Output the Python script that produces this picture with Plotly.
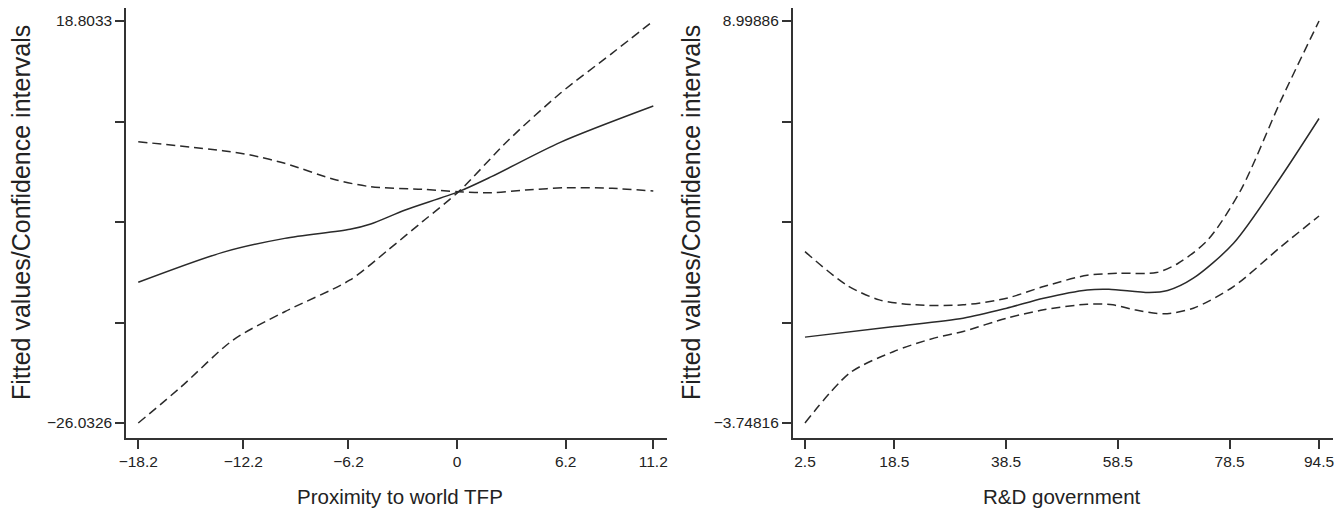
import plotly.graph_objects as go

# ---- Left panel: Proximity to world TFP ----
tfp_x_fit = [-18.2, -13.38, -9.84, -6.11, -4.93, -2.96, 0.09, 1.96, 5.89, 11.2]
tfp_fit = [-10.34, -7.00, -5.44, -4.43, -3.84, -2.28, -0.23, 1.44, 5.27, 9.32]

tfp_x_up = [-18.2, -13.38, -11.8, -9.84, -6.89, -4.93, -1.98, 0.09, 1.96, 3.92, 6.28, 8.84, 11.2]
tfp_up = [5.34, 4.34, 3.86, 2.93, 1.07, 0.32, 0.03, -0.23, -0.35, -0.05, 0.21, 0.14, -0.16]

tfp_x_lo = [-18.2, -15.74, -12.79, -9.84, -6.11, -3.94, -1.98, 0.09, 2.94, 5.89, 8.84, 11.2]
tfp_lo = [-26.0326, -21.98, -16.78, -13.62, -10.08, -6.74, -3.58, -0.23, 5.53, 10.74, 15.2, 18.8033]

tfp_xticks = [-18.2, -12.2, -6.2, 0, 6.2, 11.2]
tfp_xlabels = ["\u221218.2", "\u221212.2", "\u22126.2", "0", "6.2", "11.2"]
tfp_yticks = [18.8033, 7.594, -3.615, -14.824, -26.0326]
tfp_ylabels = ["18.8033", "", "", "", "\u221226.0326"]

# ---- Right panel: R&D government ----
rd_x_fit = [2.5, 18.5, 30.8, 38.6, 45.2, 53.0, 56.9, 64.1, 67.4, 72.0, 79.2, 87.7, 94.5]
rd_fit = [-1.025, -0.688, -0.424, -0.107, 0.209, 0.473, 0.494, 0.389, 0.452, 0.842, 1.950, 4.061, 5.907]

rd_x_up = [2.5, 9.9, 15.8, 22.3, 30.8, 38.6, 45.2, 53.0, 58.9, 65.4, 69.3, 74.6, 80.5, 87.7, 94.5]
rd_up = [1.686, 0.631, 0.156, -0.002, -0.002, 0.209, 0.578, 0.937, 1.0, 1.021, 1.317, 2.056, 3.639, 6.488, 8.99886]

rd_x_lo = [2.5, 10.5, 18.4, 25.6, 30.8, 38.6, 45.2, 53.0, 57.6, 61.5, 66.7, 72.0, 79.2, 87.7, 94.5]
rd_lo = [-3.74816, -2.165, -1.479, -1.057, -0.846, -0.424, -0.160, 0.019, -0.002, -0.160, -0.287, -0.107, 0.578, 1.845, 2.815]

rd_xticks = [2.5, 18.5, 38.5, 58.5, 78.5, 94.5]
rd_xlabels = ["2.5", "18.5", "38.5", "58.5", "78.5", "94.5"]
rd_yticks = [8.99886, 5.8121, 2.6254, -0.5614, -3.74816]
rd_ylabels = ["8.99886", "", "", "", "\u22123.74816"]

LINE = "#2a2a2a"
FONT = "Liberation Sans, Arial, sans-serif"

fig = go.Figure()

def add_set(xs, ys, dash, xa, ya):
    fig.add_trace(go.Scatter(x=xs, y=ys, mode="lines", xaxis=xa, yaxis=ya,
                             line=dict(color=LINE, width=1.5, dash=dash, shape="spline", smoothing=0.8),
                             showlegend=False, hoverinfo="skip"))

add_set(tfp_x_fit, tfp_fit, "solid", "x", "y")
add_set(tfp_x_up, tfp_up, "9px,5px", "x", "y")
add_set(tfp_x_lo, tfp_lo, "9px,5px", "x", "y")
add_set(rd_x_fit, rd_fit, "solid", "x2", "y2")
add_set(rd_x_up, rd_up, "9px,5px", "x2", "y2")
add_set(rd_x_lo, rd_lo, "9px,5px", "x2", "y2")

# page body has an 8px margin, so the figure is shifted by 8px
OFF = 8
W, H = 1343 - OFF, 517 - OFF
ydom = [(H - (438 - OFF)) / H, 1.0]

axis_common = dict(showline=True, linecolor="#333333", linewidth=1.5, ticks="outside",
                   ticklen=9, tickwidth=1.5, tickcolor="#333333", showgrid=False, zeroline=False,
                   tickfont=dict(family=FONT, size=15.5, color="#222222"), mirror=False,
                   automargin=False)

fig.update_layout(
    width=W, height=H, paper_bgcolor="white", plot_bgcolor="white",
    margin=dict(l=0, r=0, t=0, b=0, autoexpand=False),
    xaxis=dict(domain=[(126 - OFF) / W, (666.7 - OFF) / W], range=[-18.90, 11.965], tickvals=tfp_xticks,
               ticktext=tfp_xlabels, anchor="y", **axis_common),
    yaxis=dict(domain=ydom, range=[-27.705, 20.253], tickvals=tfp_yticks,
               ticktext=tfp_ylabels, anchor="x", **axis_common),
    xaxis2=dict(domain=[(792.7 - OFF) / W, (1333 - OFF) / W], range=[0.30, 97.0], tickvals=rd_xticks,
                ticktext=rd_xlabels, anchor="y2", **axis_common),
    yaxis2=dict(domain=ydom, range=[-4.2238, 9.411], tickvals=rd_yticks,
                ticktext=rd_ylabels, anchor="x2", **axis_common),
)

ann_font_y = dict(family=FONT, size=25, color="#222222")
ann_font_x = dict(family=FONT, size=20.5, color="#222222")
fig.add_annotation(text="Fitted values/Confidence intervals", xref="paper", yref="paper",
                   x=(21 - OFF) / W, y=(H - (213 - OFF)) / H, textangle=-90, showarrow=False,
                   font=ann_font_y, xanchor="center", yanchor="middle")
fig.add_annotation(text="Fitted values/Confidence intervals", xref="paper", yref="paper",
                   x=(691 - OFF) / W, y=(H - (213 - OFF)) / H, textangle=-90, showarrow=False,
                   font=ann_font_y, xanchor="center", yanchor="middle")
fig.add_annotation(text="Proximity to world TFP", xref="paper", yref="paper",
                   x=(400 - OFF) / W, y=(H - (496 - OFF)) / H, showarrow=False,
                   font=ann_font_x, xanchor="center", yanchor="middle")
fig.add_annotation(text="R&amp;D government", xref="paper", yref="paper",
                   x=(1062 - OFF) / W, y=(H - (496 - OFF)) / H, showarrow=False,
                   font=ann_font_x, xanchor="center", yanchor="middle")

fig.write_html("out.html")
